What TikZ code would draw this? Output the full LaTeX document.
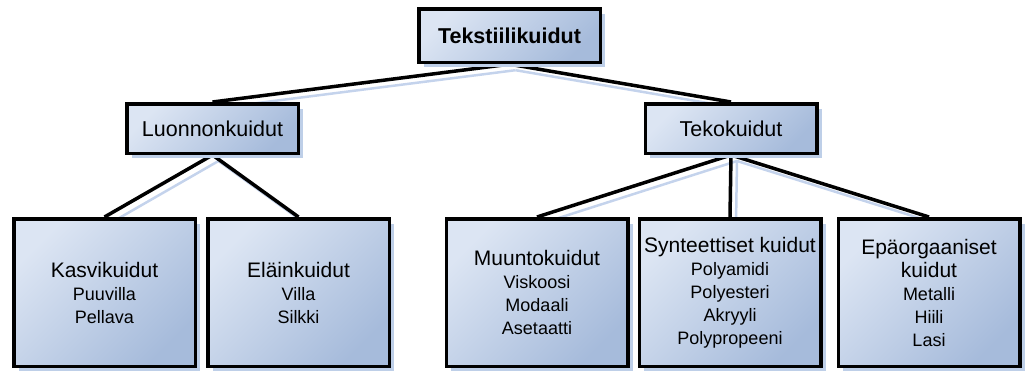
\documentclass[tikz,border=0pt]{standalone}
\usepackage{fontspec}
\setmainfont{Liberation Sans}
\usepackage{tikz}
\usetikzlibrary{positioning,shadows,backgrounds}

\definecolor{boxlight}{RGB}{220,229,243}
\definecolor{boxdark}{RGB}{166,187,219}
\definecolor{shadowblue}{RGB}{190,207,232}
\definecolor{linkblue}{RGB}{196,211,236}

\newcommand{\lvhead}[1]{{\fontsize{21}{24}\selectfont #1}}

\begin{document}
\begin{tikzpicture}[
    x=1pt, y=1pt,
    box/.style={rectangle, draw, line width=3.5pt, top color=boxlight, bottom color=boxdark, shading angle=45,
        drop shadow={shadow xshift=5pt, shadow yshift=-5pt, fill=shadowblue, opacity=1}, align=center, inner sep=2pt},
    topbox/.style={box, minimum width=181.5pt, minimum height=53.5pt, font=\fontsize{21.5}{25}\selectfont\bfseries},
    midbox/.style={box, minimum width=171.5pt, minimum height=49.5pt, font=\fontsize{21.5}{25}\selectfont},
    leafbox/.style={box, minimum width=181.5pt, minimum height=147.5pt, font=\fontsize{18}{23}\selectfont},
    link/.style={line width=3.5pt},
    linkshadow/.style={line width=2.5pt, linkblue, transform canvas={shift={(6pt,-6pt)}}}
]
    \useasboundingbox (0,0) rectangle (1026,-372);

    % Top
    \node[topbox] (tekstiili) at (509.5,-35.7) {Tekstiilikuidut};

    % Second level
    \node[midbox] (luonnon) at (212.5,-128.5) {Luonnonkuidut};
    \node[midbox] (teko) at (731,-128.5) {Tekokuidut};

    % Leaves
    \node[leafbox] (kasvi) at (104.5,-292.5) {\lvhead{Kasvikuidut}\\Puuvilla\\Pellava};
    \node[leafbox, right=9pt of kasvi] (elain) {\lvhead{Eläinkuidut}\\Villa\\Silkki};
    \node[leafbox] (muunto) at (537,-292.5) {\lvhead{Muuntokuidut}\\Viskoosi\\Modaali\\Asetaatti};
    \node[leafbox, right=8pt of muunto] (synt) {\lvhead{Synteettiset kuidut}\\Polyamidi\\Polyesteri\\Akryyli\\Polypropeeni};
    \node[leafbox, right=14pt of synt] (epa) {\lvhead{Epäorgaaniset}\\\lvhead{kuidut}\\Metalli\\Hiili\\Lasi};

    % Connectors, shadow first
    \begin{scope}[on background layer]
        \foreach \a/\b in {tekstiili/luonnon, tekstiili/teko, luonnon/kasvi, luonnon/elain,
                teko/muunto, teko/synt, teko/epa}
            \draw[linkshadow] (\a.south) -- (\b.north);
        \foreach \a/\b in {tekstiili/luonnon, tekstiili/teko, luonnon/kasvi, luonnon/elain,
                teko/muunto, teko/synt, teko/epa}
            \draw[link] (\a.south) -- (\b.north);
    \end{scope}
\end{tikzpicture}
\end{document}
